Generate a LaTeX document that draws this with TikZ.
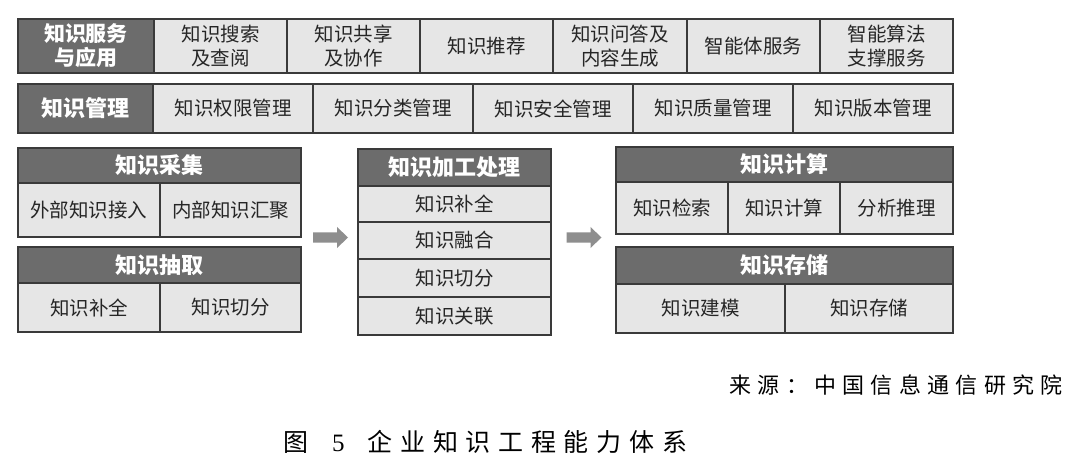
\documentclass[tikz,border=0pt]{standalone}
\usepackage{fontspec}
\setmainfont{Liberation Serif}
\newfontfamily\cjk{Noto Sans CJK SC}
\definecolor{darkc}{HTML}{6C6C6C}
\definecolor{lightc}{HTML}{E6E6E6}
\definecolor{bordc}{HTML}{3A3A3A}
\definecolor{textc}{HTML}{262626}
\definecolor{arrowc}{HTML}{8E8E8E}
\newcommand\gk{\kern7.7pt}
\newcommand\sk{\kern6.3pt}
% \cellat{name}{x1}{y1}{x2}{y2}{style}{text}
\newcommand\cellat[7]{\node[#6, minimum width={(#4)-(#2)}, minimum height={(#5)-(#3)}] (#1) at (#2,#3) {#7};}
% block arrow around a named coordinate
\newcommand\blockarrow[1]{\fill[arrowc, shift={(#1)}] (-17.5,-5) -- (6.5,-5) -- (6.5,-10.5) -- (17.5,0) -- (6.5,10.5) -- (6.5,5) -- (-17.5,5) -- cycle;}
\begin{document}
\begin{tikzpicture}[x=1pt,y=-1pt,
  cell/.style={draw=bordc, line width=1.1pt, fill=lightc, inner sep=0pt, outer sep=0pt, anchor=north west, align=center, text=textc, font=\cjk\fontsize{19.5}{24}\selectfont},
  head/.style={cell, fill=darkc, text=white, font=\cjk\bfseries\fontsize{22}{25}\selectfont},
  headr/.style={head, font=\cjk\bfseries\fontsize{21}{24}\selectfont},
  frame/.style={draw=bordc, line width=1.8pt},
]
\useasboundingbox[fill=white] (0,0) rectangle (1080,476);
% row 1
\cellat{r1h}{18}{19}{154}{73}{headr}{知识服务\\与应用}
\cellat{r1a}{154}{19}{287}{73}{cell}{知识搜索\\及查阅}
\cellat{r1b}{287}{19}{420}{73}{cell}{知识共享\\及协作}
\cellat{r1c}{420}{19}{553}{73}{cell}{知识推荐}
\cellat{r1d}{553}{19}{687}{73}{cell}{知识问答及\\内容生成}
\cellat{r1e}{687}{19}{820}{73}{cell}{智能体服务}
\cellat{r1f}{820}{19}{953}{73}{cell}{智能算法\\支撑服务}
\draw[frame] (r1h.north west) rectangle (r1f.south east);
% row 2
\cellat{r2h}{18}{84}{153}{133}{head}{知识管理}
\cellat{r2a}{153}{84}{313}{133}{cell}{知识权限管理}
\cellat{r2b}{313}{84}{473}{133}{cell}{知识分类管理}
\cellat{r2c}{473}{84}{633}{133}{cell}{知识安全管理}
\cellat{r2d}{633}{84}{793}{133}{cell}{知识质量管理}
\cellat{r2e}{793}{84}{953}{133}{cell}{知识版本管理}
\draw[frame] (r2h.north west) rectangle (r2e.south east);
% collect
\cellat{colh}{18}{148}{301}{183}{head}{知识采集}
\cellat{cola}{18}{183}{160}{237}{cell}{外部知识接入}
\cellat{colb}{160}{183}{301}{237}{cell}{内部知识汇聚}
\draw[frame] (colh.north west) rectangle (colb.south east);
% extract
\cellat{exth}{18}{247}{301}{283}{head}{知识抽取}
\cellat{exta}{18}{283}{160}{332}{cell}{知识补全}
\cellat{extb}{160}{283}{301}{332}{cell}{知识切分}
\draw[frame] (exth.north west) rectangle (extb.south east);
% processing
\cellat{proh}{358}{149}{551}{186}{head}{知识加工处理}
\cellat{proa}{358}{186}{551}{222}{cell}{知识补全}
\cellat{prob}{358}{222}{551}{259}{cell}{知识融合}
\cellat{proc}{358}{259}{551}{297}{cell}{知识切分}
\cellat{prod}{358}{297}{551}{335}{cell}{知识关联}
\draw[frame] (proh.north west) rectangle (prod.south east);
% compute
\cellat{cmph}{616}{147}{953}{182}{head}{知识计算}
\cellat{cmpa}{616}{182}{728}{234}{cell}{知识检索}
\cellat{cmpb}{728}{182}{840}{234}{cell}{知识计算}
\cellat{cmpc}{840}{182}{953}{234}{cell}{分析推理}
\draw[frame] (cmph.north west) rectangle (cmpc.south east);
% storage
\cellat{stoh}{616}{247}{953}{284}{head}{知识存储}
\cellat{stoa}{616}{284}{785}{333}{cell}{知识建模}
\cellat{stob}{785}{284}{953}{333}{cell}{知识存储}
\draw[frame] (stoh.north west) rectangle (stob.south east);
% arrows
\coordinate (arr1) at (330.5,237.5);
\coordinate (arr2) at (584,237.5);
\blockarrow{arr1}
\blockarrow{arr2}
% source and caption
\node[anchor=east, inner sep=0pt, text=black, font=\cjk\fontsize{22}{24}\selectfont] (src) at (1063,385)
  {来\sk 源\sk ：\sk 中\sk 国\sk 信\sk 息\sk 通\sk 信\sk 研\sk 究\sk 院};
\node[anchor=west, inner sep=0pt, text=black, font=\fontsize{25}{28}\selectfont] (cap) at (283,442)
  {{\cjk 图}\hspace{24pt}5\hspace{23pt}{\cjk 企\gk 业\gk 知\gk 识\gk 工\gk 程\gk 能\gk 力\gk 体\gk 系}};
\end{tikzpicture}
\end{document}
